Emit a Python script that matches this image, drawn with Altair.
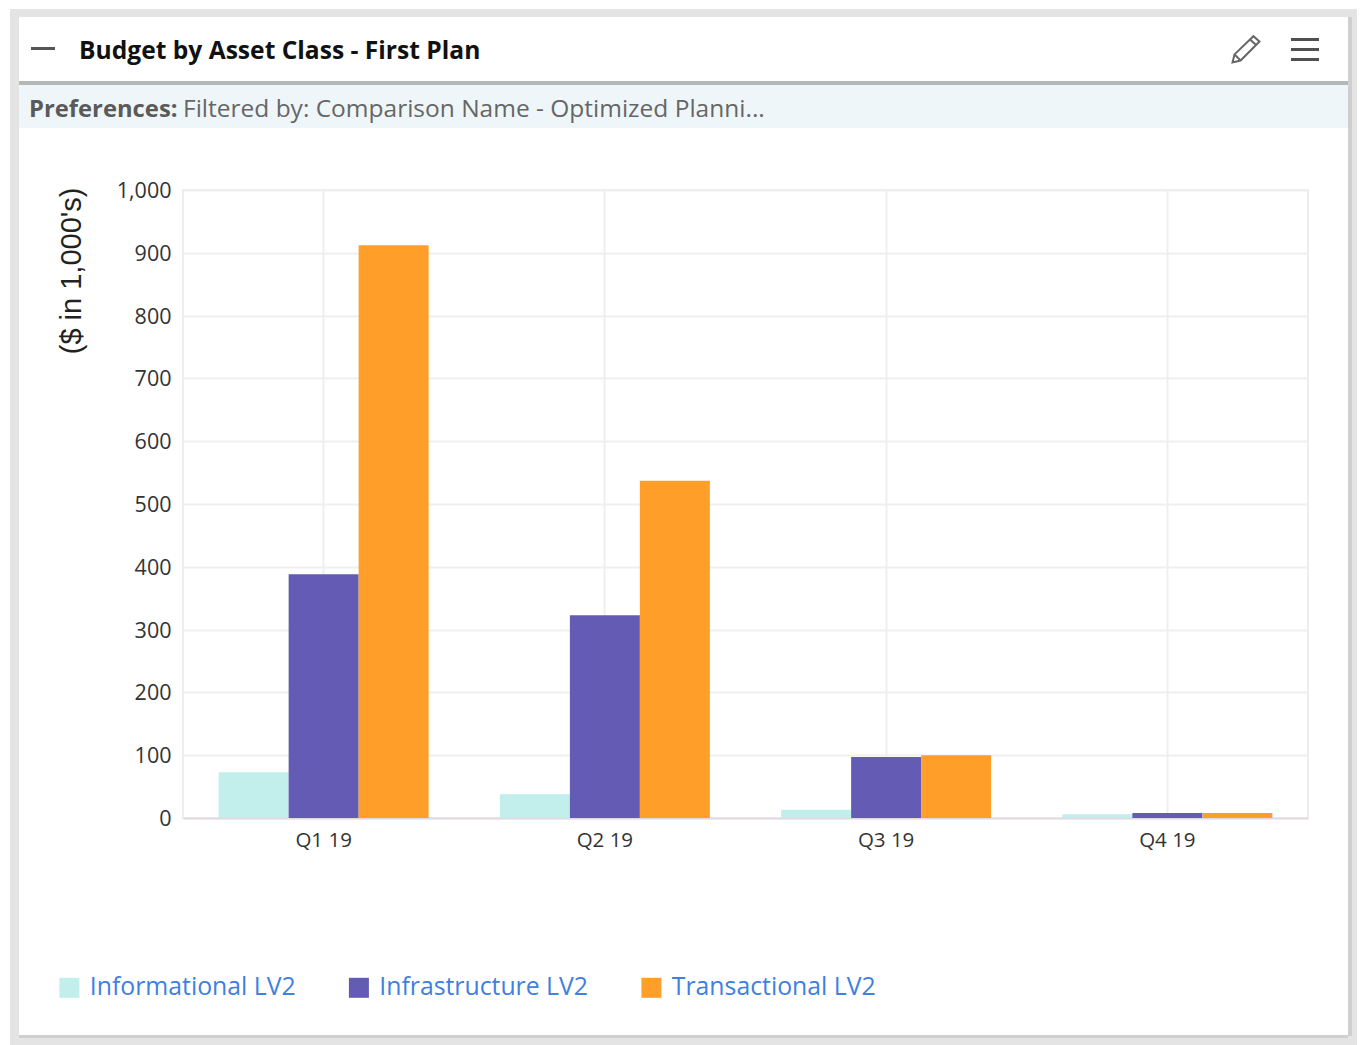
import altair as alt
import pandas as pd

quarters = ["Q1 19", "Q2 19", "Q3 19", "Q4 19"]
series = ["Informational LV2", "Infrastructure LV2", "Transactional LV2"]
informational = [73, 38, 13, 6]
infrastructure = [388, 323, 97, 8]
transactional = [912, 537, 100, 8]
colors = ["#c2eeec", "#645cb4", "#ff9f2a"]

W, H = 1125, 628
OX, OY = 183, 190  # plot origin on the page
SVG_W, SVG_H = 1349, 1037

rows = []
for name, vals in zip(series, [informational, infrastructure, transactional]):
    for q, v in zip(quarters, vals):
        rows.append({"quarter": q, "series": name, "value": v})
df = pd.DataFrame(rows)
one = pd.DataFrame({"a": [0]})


def box(x1, y1, x2, y2, color):
    return alt.Chart(one).mark_rect(color=color).encode(
        x=alt.value(x1 - OX), x2=alt.value(x2 - OX),
        y=alt.value(y1 - OY), y2=alt.value(y2 - OY))


def label(text, x, y, size, color, weight="normal", font="Open Sans", align="left"):
    return alt.Chart(one).mark_text(
        text=text, fontSize=size, color=color, fontWeight=weight, font=font,
        align=align, baseline="middle").encode(x=alt.value(x - OX), y=alt.value(y - OY))


band = "#e4e4e4"
chrome = [
    box(10, 9, 1361, 17, band),
    box(10, 1036, 1361, 1045, band),
    box(10, 9, 19, 1045, band),
    box(1348, 9, 1361, 1045, band),
    box(1348, 17, 1352, 1036, "#cfcfcf"),
    box(19, 1035, 1348, 1038, "#cfcfcf"),
    box(19, 85, 1348, 128, "#eff6f9"),
    box(19, 81, 1348, 85, "#b4b8b8"),
    box(31, 47, 55, 50, "#555555"),
    box(1291, 38, 1319, 41, "#505050"),
    box(1291, 48, 1319, 51, "#505050"),
    box(1291, 58, 1319, 61, "#505050"),
]

pencil_path = ("M -1 1 L -0.85 0.4 L 0.55 -0.95 L 1 -0.55 L -0.4 0.85 Z "
               "M -0.85 0.4 L -0.4 0.85 M 0.3 -0.7 L 0.75 -0.3")
pencil = alt.Chart(one).mark_point(
    shape=pencil_path, size=729, filled=False, stroke="#666666", strokeWidth=2, opacity=1
).encode(x=alt.value(1246 - OX), y=alt.value(49 - OY))

texts = [
    label("Budget by Asset Class - First Plan", 79, 52, 24.6, "#111111", "bold"),
    label("Preferences:", 29, 110, 23.8, "#5a5a5a", "bold"),
    label("Filtered by: Comparison Name - Optimized Planni...", 183, 110, 24.5, "#666666"),
]

bars = alt.Chart(df).mark_bar().encode(
    x=alt.X("quarter:N", sort=quarters, title=None,
            scale=alt.Scale(paddingInner=0.2533, paddingOuter=0.1267),
            axis=alt.Axis(labelAngle=0, labelFont="Open Sans", labelFontSize=20.5,
                          labelColor="#333333", labelPadding=12, ticks=False,
                          domainColor="#e2d9e2", domainWidth=2,
                          grid=True, gridColor="#efefef", gridWidth=2)),
    xOffset=alt.XOffset("series:N", sort=series, scale=alt.Scale(paddingInner=0, paddingOuter=0)),
    y=alt.Y("value:Q", title="($ in 1,000's)",
            scale=alt.Scale(domain=[0, 1000], nice=False),
            axis=alt.Axis(values=list(range(0, 1001, 100)), format=",.0f",
                          labelFont="Open Sans", labelFontSize=21.5, labelColor="#333333",
                          labelPadding=12, labelOffset=1.5, ticks=False, domain=False,
                          grid=True, gridColor="#efefef", gridWidth=2,
                          titleFont="Liberation Sans", titleFontSize=29,
                          titleFontWeight="normal", titleColor="#222222",
                          titleAnchor="end", titleAlign="right", titleBaseline="bottom",
                          titleX=-97, titleY=-3)),
    color=alt.Color("series:N", sort=series,
                    scale=alt.Scale(domain=series, range=colors),
                    legend=alt.Legend(
                        title=None, orient="none", direction="horizontal",
                        legendX=57 - OX, legendY=975 - OY,
                        symbolType="square", symbolSize=400, symbolStrokeWidth=0,
                        labelFont="Open Sans", labelFontSize=24.8, labelColor="#3f80e0",
                        labelOffset=8, columnPadding=50.5, labelLimit=400)),
)

left, top = OX - 8, OY - 8
chart = alt.layer(*chrome, pencil, *texts, bars).properties(
    width=W, height=H,
    padding={"left": left, "top": top, "right": SVG_W - left - W,
             "bottom": SVG_H - top - H},
    autosize=alt.AutoSizeParams(type="none"),
    background="white",
).configure_view(stroke="#e8e8e8", strokeWidth=1.5)

chart.save("out.html", embed_options={"renderer": "svg", "actions": False})
